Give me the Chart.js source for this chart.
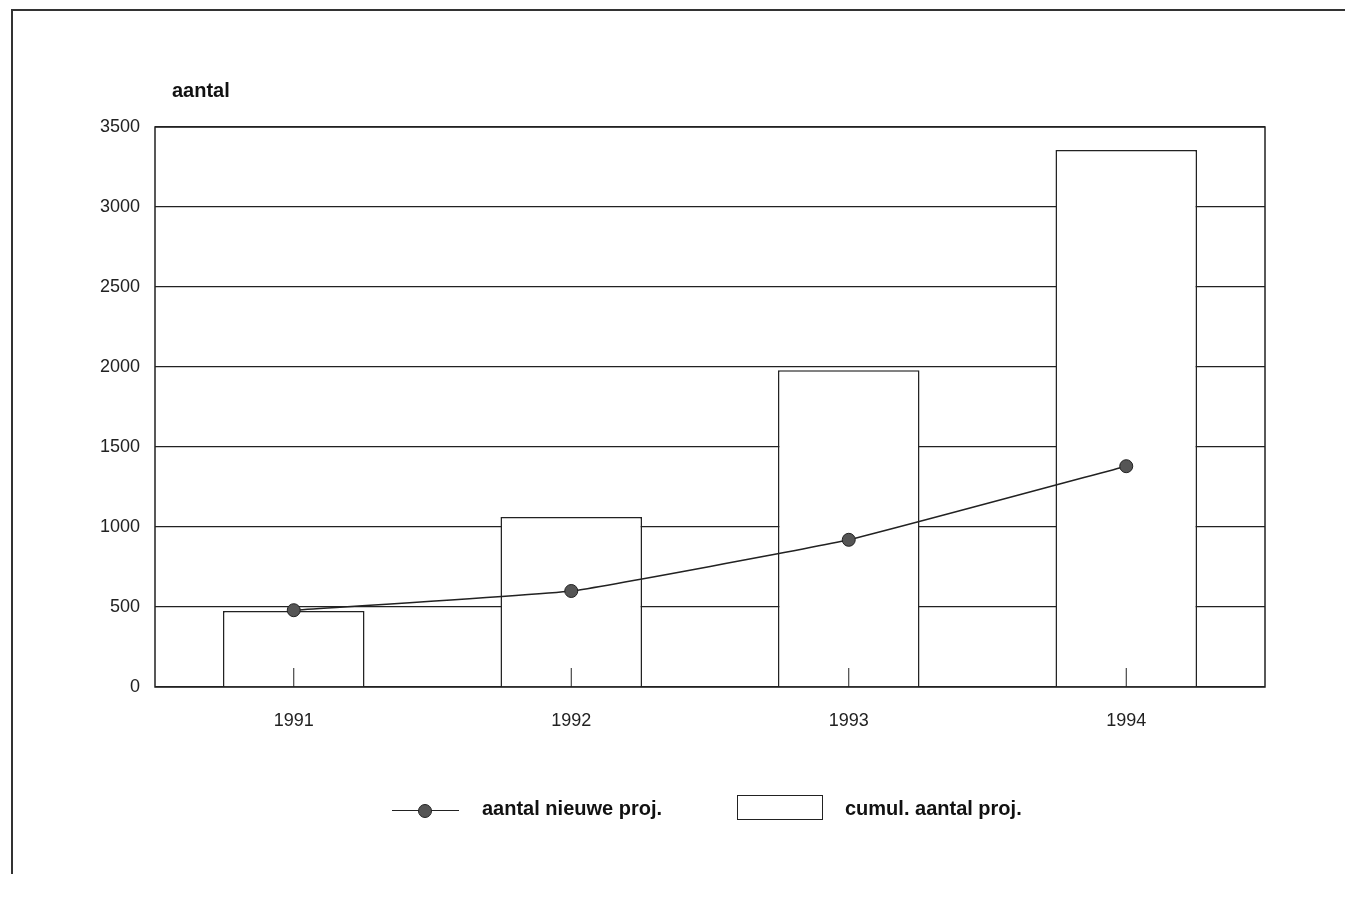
<!DOCTYPE html>
<html lang="nl">
<head>
  <meta charset="UTF-8">
  <title>aantal projecten</title>
  <script src="https://cdn.jsdelivr.net/npm/chart.js"></script>
  <style>
    body { margin: 0; background: #fff; font-family: "Liberation Sans", Arial, sans-serif; }
    #wrap { position: relative; width: 1345px; height: 899px; overflow: hidden; }
    #frame { position: absolute; left: 11px; top: 9px; width: 1345px; height: 863px;
             border-top: 2px solid #333; border-left: 2px solid #333; }
    #ylabel { position: absolute; left: 172px; top: 79px; font-weight: bold; font-size: 20px; color: #111; }
    .leg { position: absolute; top: 797px; font-weight: bold; font-size: 20px; color: #111; }
    #sym-line { position: absolute; left: 392px; top: 810px; width: 67px; height: 0; border-top: 1.5px solid #222; }
    #sym-dot { position: absolute; left: 418px; top: 804px; width: 12px; height: 12px; border-radius: 50%;
               background: #555; border: 1px solid #222; }
    #sym-box { position: absolute; left: 737px; top: 795px; width: 84px; height: 23px; border: 1.5px solid #222; }
    canvas { position: absolute; left: 0; top: 0; }
  </style>
</head>
<body>
<div id="wrap">
  <div id="frame"></div>
  <canvas id="chart" width="1345" height="899"></canvas>
  <div id="ylabel">aantal</div>
  <div id="sym-line"></div><div id="sym-dot"></div>
  <div class="leg" style="left:482px">aantal nieuwe proj.</div>
  <div id="sym-box"></div>
  <div class="leg" style="left:845px">cumul. aantal proj.</div>
</div>
<script>
  const years = ["1991", "1992", "1993", "1994"];
  const nieuweProj = [480, 600, 920, 1380];
  const cumulProj = [475, 1062, 1980, 3356];
  const yTicks = [0, 500, 1000, 1500, 2000, 2500, 3000, 3500];

  // frame around plot + small inward ticks at the category centres
  const plotDecor = {
    id: "plotDecor",
    afterDatasetsDraw(chart) {
      const { ctx, chartArea: a, scales } = chart;
      ctx.save();
      ctx.strokeStyle = "#222";
      ctx.lineWidth = 1.5;
      ctx.strokeRect(a.left, a.top, a.right - a.left, a.bottom - a.top);
      ctx.lineWidth = 1;
      scales.x.ticks.forEach((t, i) => {
        const x = scales.x.getPixelForTick(i);
        ctx.beginPath();
        ctx.moveTo(x, a.bottom);
        ctx.lineTo(x, a.bottom - 19);
        ctx.stroke();
      });
      ctx.restore();
    }
  };

  new Chart(document.getElementById("chart"), {
    data: {
      labels: years,
      datasets: [
        {
          type: "line",
          label: "aantal nieuwe proj.",
          data: nieuweProj,
          borderColor: "#222",
          borderWidth: 1.5,
          tension: 0.1,
          pointRadius: 6.5,
          pointBackgroundColor: "#555",
          pointBorderColor: "#222",
          pointBorderWidth: 1,
          order: 0
        },
        {
          type: "bar",
          label: "cumul. aantal proj.",
          data: cumulProj,
          backgroundColor: "#fff",
          borderColor: "#222",
          borderWidth: 1.5,
          barPercentage: 0.51,
          categoryPercentage: 1,
          order: 1
        }
      ]
    },
    options: {
      responsive: false,
      animation: false,
      layout: { padding: { left: 0, top: 127, right: 80, bottom: 162 } },
      plugins: { legend: { display: false }, tooltip: { enabled: false } },
      scales: {
        x: {
          offset: true,
          grid: { display: false, drawTicks: false },
          border: { display: false },
          ticks: { color: "#222", padding: 23, font: { family: "Liberation Sans", size: 18 } },
          afterFit(s) { s.height = 50; }
        },
        y: {
          min: 0,
          max: 3500,
          afterBuildTicks(s) { s.ticks = yTicks.map(v => ({ value: v })); },
          grid: { color: "#222", lineWidth: 1.2, drawTicks: false },
          border: { display: false },
          ticks: {
            color: "#222", padding: 15, font: { family: "Liberation Sans", size: 18 },
            callback: v => String(v)
          },
          afterFit(s) { s.width = 155; }
        }
      }
    },
    plugins: [plotDecor]
  });
</script>
</body>
</html>
